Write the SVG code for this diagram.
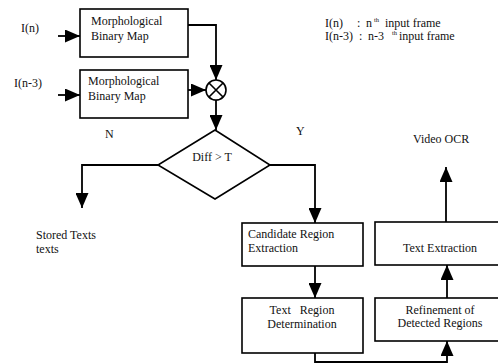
<svg xmlns="http://www.w3.org/2000/svg" width="498" height="364" viewBox="0 0 498 364">
<defs>
<marker id="ah" markerUnits="userSpaceOnUse" markerWidth="15" markerHeight="13" refX="15" refY="6.5" orient="auto">
<path d="M0,0 L15,6.5 L0,13 z" fill="#000"/>
</marker>
</defs>
<style>
text{font-family:"Liberation Serif","Times New Roman",serif;font-size:12px;fill:#111;white-space:pre}
.c{text-anchor:middle}
.box{fill:#fff;stroke:#000;stroke-width:1.6}
.ln{fill:none;stroke:#000;stroke-width:1.8;marker-end:url(#ah)}
.sup{font-size:6.5px}
</style>
<rect width="498" height="364" fill="#fff"/>
<g id="connectors">
<path class="ln" d="M58,36 H80"/>
<path class="ln" d="M58,95 H80"/>
<path class="ln" d="M188,25 H216 V80"/>
<path class="ln" d="M188,90 H206"/>
<path class="ln" d="M216,100 V130"/>
<path class="ln" d="M158,165 H82 V208"/>
<path class="ln" d="M270,165 H315 V223"/>
<path class="ln" d="M315,266 V298"/>
<path class="ln" d="M315,353 V362 H447 V341"/>
<path class="ln" d="M447,298 V265"/>
<path class="ln" d="M446,222 V167"/>
</g>
<g id="label-in"><text x="21" y="32">I(n)</text></g>
<g id="label-in3"><text x="14" y="87">I(n-3)</text></g>
<g id="box1">
<rect class="box" x="80" y="9" width="108" height="48"/>
<text x="91" y="25">Morphological</text>
<text x="91" y="40">Binary Map</text>
</g>
<g id="box2">
<rect class="box" x="80" y="70" width="108" height="48"/>
<text x="88" y="85">Morphological</text>
<text x="88" y="100">Binary Map</text>
</g>
<g id="mult">
<circle cx="216" cy="90" r="10" fill="#fff" stroke="#000" stroke-width="1.6"/>
<path d="M209,83 L223,97 M223,83 L209,97" stroke="#000" stroke-width="1.6"/>
</g>
<g id="diamond">
<path d="M215,130 L270,165 L215,199 L158,165 Z" fill="#fff" stroke="#000" stroke-width="1.6"/>
<text class="c" x="212" y="161">Diff &gt; T</text>
</g>
<g id="label-N"><text x="105" y="138">N</text></g>
<g id="label-Y"><text x="296" y="135">Y</text></g>
<g id="stored">
<text x="36" y="239">Stored Texts</text>
<text x="36" y="253">texts</text>
</g>
<g id="candidate">
<rect class="box" x="242" y="223" width="121" height="43"/>
<text x="248" y="238">Candidate Region</text>
<text x="248" y="252">Extraction</text>
</g>
<g id="textregion">
<rect class="box" x="242" y="298" width="121" height="55"/>
<text class="c" x="302" y="314">Text   Region</text>
<text class="c" x="302" y="328">Determination</text>
</g>
<g id="textextraction">
<rect class="box" x="375" y="222" width="131" height="43"/>
<text class="c" x="440" y="252">Text Extraction</text>
</g>
<g id="refinement">
<rect class="box" x="375" y="298" width="131" height="43"/>
<text class="c" x="440" y="314">Refinement of</text>
<text class="c" x="440" y="327">Detected Regions</text>
</g>
<g id="videoocr"><text x="413" y="143">Video OCR</text></g>
<g id="legend">
<text x="325" y="27">I(n)</text>
<text x="357" y="27">:</text>
<text x="366" y="27">n</text>
<text class="sup" x="374" y="22">th</text>
<text x="385" y="27">input frame</text>
<text x="325" y="40">I(n-3)</text>
<text x="359" y="40">:</text>
<text x="368" y="40">n-3</text>
<text class="sup" x="392" y="35">th</text>
<text x="399" y="40">input frame</text>
</g>
</svg>
